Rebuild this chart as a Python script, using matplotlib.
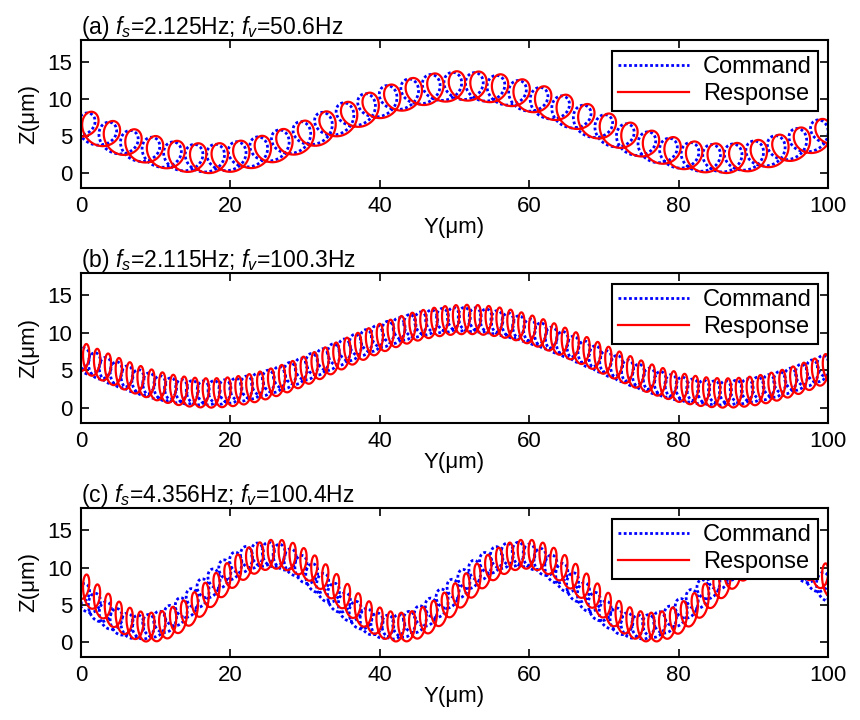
import numpy as np
import matplotlib
matplotlib.use("Agg")
import matplotlib.pyplot as plt

plt.rcParams['font.family'] = ['Liberation Sans', 'DejaVu Sans']
plt.rcParams['mathtext.fontset'] = 'custom'
plt.rcParams['mathtext.rm'] = 'Liberation Sans'
plt.rcParams['mathtext.it'] = 'Liberation Sans:italic'

# Scan parameters of the three trajectories
panel_tags = ['(a)', '(b)', '(c)']
f_s = [2.125, 2.115, 4.356]      # slow (Z wave) frequency, Hz
f_v = [50.6, 100.3, 100.4]       # vibration (loop) frequency, Hz
scan_speed = [146.0, 146.0, 146.0]   # Y scan speed, um/s
first_trough = [16.5, 16.5, 8.0]     # Y position of first Z minimum, um
z_mean = [6.9, 6.9, 6.9]             # um
z_amp = [4.9, 4.9, 4.9]              # um
# vibration radii of the command (Y, Z), um
cmd_ry = [1.85, 1.15, 1.15]
cmd_rz = [1.85, 1.6, 1.6]
# response: gains and lags relative to the command
resp_gain_y = [0.95, 0.65, 0.65]
resp_gain_z = [1.08, 1.22, 1.22]
resp_phase_v = [1.2, 1.5, 1.5]       # rad, at f_v
resp_lag_s = [0.004, 0.005, 0.009]   # s, delay of the slow wave

y_ticks = [0, 20, 40, 60, 80, 100]
z_ticks = [0, 5, 10, 15]

fig = plt.figure(figsize=(8.6, 7.2), dpi=100)
boxes = [[0.094, 0.739, 0.869, 0.2055],
         [0.094, 0.4125, 0.869, 0.2085],
         [0.094, 0.0875, 0.869, 0.207]]

for i in range(3):
    ax = fig.add_axes(boxes[i])
    v = scan_speed[i]
    t = np.linspace(-4.0 / v, 104.0 / v, 60000)
    ws = 2 * np.pi * f_s[i]
    wv = 2 * np.pi * f_v[i]
    t0 = first_trough[i] / v

    yc = v * t + cmd_ry[i] * np.cos(wv * t)
    zc = z_mean[i] - z_amp[i] * np.cos(ws * (t - t0)) + cmd_rz[i] * np.sin(wv * t)

    ph = resp_phase_v[i]
    yr = v * t + resp_gain_y[i] * cmd_ry[i] * np.cos(wv * t - ph)
    zr = (z_mean[i] - z_amp[i] * np.cos(ws * (t - t0 - resp_lag_s[i]))
          + resp_gain_z[i] * cmd_rz[i] * np.sin(wv * t - ph))

    ax.plot(yc, zc, color='#0000ff', linestyle=(0, (1, 0.9)), linewidth=2.0,
            label='Command')
    ax.plot(yr, zr, color='#ff0000', linestyle='-', linewidth=1.6,
            label='Response')

    ax.set_xlim(0, 100)
    ax.set_ylim(-2, 18)
    ax.set_xticks(y_ticks)
    ax.set_yticks(z_ticks)
    ax.tick_params(direction='in', top=True, right=True, length=6, width=1.2,
                   labelsize=16, pad=6)
    for s in ax.spines.values():
        s.set_linewidth(1.5)
    ax.set_xlabel('Y(μm)', fontsize=16, labelpad=0)
    ax.set_ylabel('Z(μm)', fontsize=16, labelpad=6)
    ax.set_title(panel_tags[i] + ' $f_s$=%.3fHz; $f_v$=%.1fHz' % (f_s[i], f_v[i]),
                 loc='left', fontsize=16.5, pad=4)
    leg = ax.legend(loc='upper right', fontsize=17, handlelength=3.0,
                    fancybox=False, edgecolor='black', framealpha=1,
                    borderaxespad=0.45, borderpad=0.25, labelspacing=0.2,
                    handletextpad=0.6)
    leg.get_frame().set_linewidth(1.5)

fig.savefig('out.png', dpi=100)
